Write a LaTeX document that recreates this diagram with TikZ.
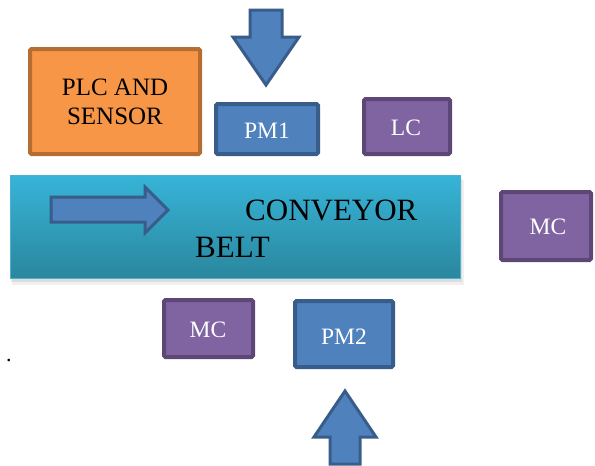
\documentclass[tikz,border=0pt]{standalone}
\usepackage{fontspec}
\setmainfont{Liberation Serif}
\usetikzlibrary{calc}
\definecolor{orfill}{HTML}{F79646}
\definecolor{ordraw}{HTML}{B66D31}
\definecolor{bufill}{HTML}{4F81BD}
\definecolor{budraw}{HTML}{385D8A}
\definecolor{pufill}{HTML}{8064A2}
\definecolor{pudraw}{HTML}{5C4776}
\definecolor{beltTop}{HTML}{37B4D8}
\definecolor{beltBot}{HTML}{2A879E}
\definecolor{beltLine}{HTML}{4BB3D0}
\begin{document}
\begin{tikzpicture}[x=1pt,y=-1pt,
  box/.style={draw, line width=4pt, rounded corners=1.5pt, inner sep=0pt},
  orbox/.style={box, fill=orfill, draw=ordraw},
  bubox/.style={box, fill=bufill, draw=budraw},
  pubox/.style={box, fill=pufill, draw=pudraw},
  wlabel/.style={text=white, font=\fontsize{23.5}{26}\selectfont},
  blkarrow/.style={fill=bufill, draw=budraw, line width=3pt, line join=miter}]
\useasboundingbox (0,0) rectangle (595,466);
% conveyor shadow
\fill[black, opacity=0.06] (12,180) rectangle (464,285);
\fill[black, opacity=0.08] (11,178) rectangle (462,282);
% conveyor belt
\node[inner sep=0pt, minimum width=450pt, minimum height=103pt, top color=beltTop, bottom color=beltBot, draw=beltLine, line width=1pt] (belt) at (235,226.5) {};
\node[anchor=base west, inner sep=0pt, font=\fontsize{31}{36}\selectfont] (t1) at (245,220) {CONVEYOR};
\node[anchor=base west, inner sep=0pt, font=\fontsize{31}{36}\selectfont] (t2) at (195,257) {BELT};
% arrow in belt
\draw[blkarrow] (51,197) -- (145,197) -- (145,187) -- (168,210) -- (145,233) -- (145,222) -- (51,222) -- cycle;
% PLC
\node[orbox, minimum width=170pt, minimum height=105pt, align=center, font=\fontsize{25}{29}\selectfont] (plc) at (115,101.5) {PLC AND\\SENSOR};
% PM1
\node[bubox, minimum width=102pt, minimum height=50pt] (pm1) at (267,129) {};
\node[wlabel] at (267,131) {PM1};
% LC
\node[pubox, minimum width=86pt, minimum height=55pt] (lc) at (407,126.5) {};
\node[wlabel] at (406,128) {LC};
% MC right
\node[pubox, minimum width=90pt, minimum height=68pt] (mcr) at (546,226) {};
\node[wlabel] at (548,227) {MC};
% MC bottom
\node[pubox, minimum width=89pt, minimum height=57pt] (mcb) at (208.5,328.5) {};
\node[wlabel] at (208,330) {MC};
% PM2
\node[bubox, minimum width=98pt, minimum height=66pt] (pm2) at (344,334) {};
\node[wlabel] at (344,337) {PM2};
% top arrow (down)
\draw[blkarrow] (250,10) -- (282,10) -- (282,37) -- (299,37) -- (266,85) -- (233,37) -- (250,37) -- cycle;
% bottom arrow (up)
\draw[blkarrow] (330,464) -- (330,437) -- (314,437) -- (345,391) -- (376,437) -- (360,437) -- (360,464) -- cycle;
% dot
\node[anchor=base west, inner sep=0pt, font=\fontsize{22}{24}\selectfont] (dot) at (6,361) {.};
\end{tikzpicture}
\end{document}
